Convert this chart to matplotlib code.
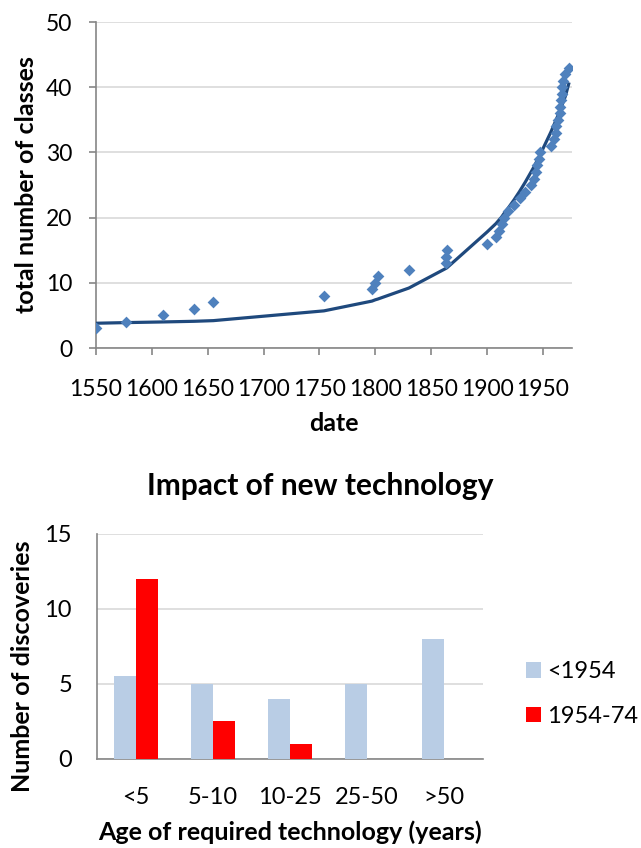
import matplotlib.pyplot as plt
import numpy as np

# top chart: discovery dates vs cumulative number of classes
dates = [1550, 1577, 1610, 1638, 1655, 1754, 1797, 1800, 1802, 1830, 1863, 1863, 1864,
         1900, 1908, 1911, 1913, 1915, 1919, 1924, 1929, 1934, 1939, 1942, 1944, 1945,
         1946, 1947, 1957, 1960, 1962, 1962, 1963, 1965, 1965, 1966, 1967, 1967, 1968,
         1970, 1973]
classes = [3, 4, 5, 6, 7, 8, 9, 10, 11, 12, 13, 14, 15,
           16, 17, 18, 19, 20, 21, 22, 23, 24, 25, 26, 27, 28,
           29, 30, 31, 32, 33, 34, 35, 36, 37, 38, 39, 40, 41,
           42, 43]
# trend line values read at the same dates
trend = [3.8, 3.9, 4.0, 4.1, 4.2, 5.7, 7.2, 7.4, 7.5, 9.2, 12.2, 12.2, 12.3,
         17.8, 19.1, 19.7, 20.1, 20.6, 21.5, 22.7, 24.0, 25.4, 26.9, 27.8, 28.5, 28.8,
         29.1, 29.5, 33.1, 34.3, 35.1, 35.1, 35.5, 36.4, 36.4, 36.8, 37.2, 37.2, 37.7,
         38.6, 40.5]

# bottom chart
ages = ['<5', '5-10', '10-25', '25-50', '>50']
before_1954 = [5.5, 5, 4, 5, 8]
from_1954 = [12, 2.5, 1, 0, 0]

plt.rcParams['font.family'] = ['Lato', 'DejaVu Sans']
grid_c = '#D9D9D9'
axis_c = '#868686'
lab_fs = 18

fig = plt.figure(figsize=(6.41, 8.48), dpi=100)

ax1 = fig.add_axes([0.1498, 0.5896, 0.7426, 0.3844])
ax1.plot(dates, trend, color='#1F497D', linewidth=2.3, zorder=3)
ax1.scatter(dates, classes, marker='D', s=36, color='#4F81BD', zorder=4, linewidths=0)
ax1.set_xlim(1550, 1976)
ax1.set_ylim(0, 50)
ax1.set_xticks(range(1550, 1951, 50))
ax1.set_yticks(range(0, 51, 10))
ax1.tick_params(axis='both', length=5, width=1.2, color=axis_c, labelsize=16.5)
ax1.tick_params(axis='x', pad=17)
ax1.tick_params(axis='y', pad=12)
ax1.set_xlabel('date', fontsize=lab_fs, fontweight='bold', labelpad=9)
ax1.set_ylabel('total number of classes', fontsize=lab_fs, fontweight='bold', labelpad=6)

ax2 = fig.add_axes([0.1513, 0.105, 0.6022, 0.2653])
x = np.arange(len(ages))
w = 0.285
ax2.bar(x - w / 2, before_1954, width=w, color='#B9CDE5', label='<1954', zorder=3)
ax2.bar(x + w / 2, from_1954, width=w, color='#FF0000', label='1954-74', zorder=3)
ax2.set_xlim(-0.5, len(ages) - 0.5)
ax2.set_ylim(0, 15)
ax2.set_yticks([0, 5, 10, 15])
ax2.set_xticks(x)
ax2.set_xticklabels(ages)
ax2.tick_params(axis='both', length=0, labelsize=17)
ax2.tick_params(axis='x', pad=20)
ax2.tick_params(axis='y', pad=18)
ax2.set_title('Impact of new technology', fontsize=21.5, fontweight='bold', pad=28, x=0.579)
ax2.set_xlabel('Age of required technology (years)', fontsize=lab_fs, fontweight='bold', labelpad=9)
ax2.set_ylabel('Number of discoveries', fontsize=lab_fs, fontweight='bold')
ax2.yaxis.set_label_coords(-0.162, 0.413)
ax2.legend(loc='center left', bbox_to_anchor=(0.787, 0.1816), bbox_transform=fig.transFigure,
           frameon=False, fontsize=17, borderpad=0.4,
           handlelength=0.64, handleheight=0.64, handletextpad=0.25, labelspacing=1.0)

for ax in (ax1, ax2):
    ax.grid(axis='y', color=grid_c, linewidth=1.2, zorder=0)
    ax.set_axisbelow(True)
    for s in ('top', 'right'):
        ax.spines[s].set_visible(False)
    for s in ('left', 'bottom'):
        ax.spines[s].set_color(axis_c)
        ax.spines[s].set_linewidth(1.2)

fig.savefig('out.png', dpi=100)
